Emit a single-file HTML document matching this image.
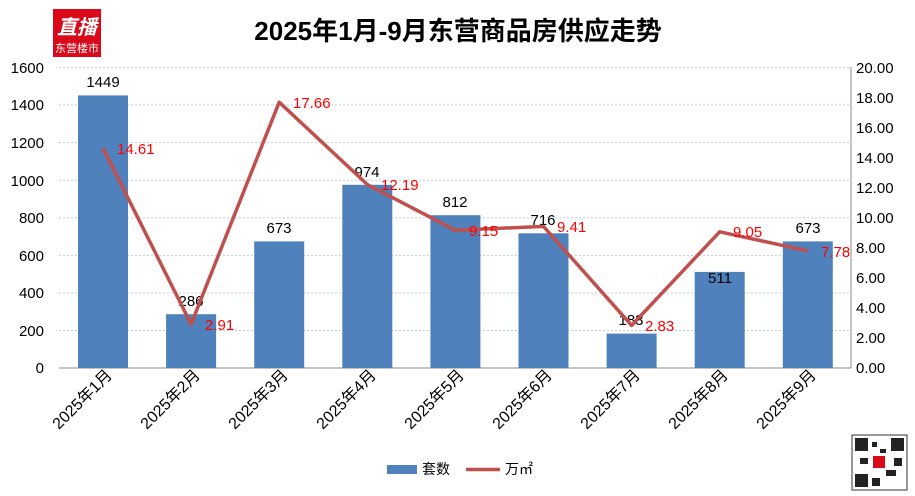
<!DOCTYPE html>
<html><head><meta charset="utf-8"><style>body{margin:0;background:#fff}svg{display:block}text{font-family:"Liberation Sans","Noto Sans CJK SC",sans-serif}</style></head><body>
<svg width="915" height="496" viewBox="0 0 915 496" xmlns="http://www.w3.org/2000/svg">
<rect width="915" height="496" fill="#fff"/>
<rect x="53" y="9" width="48" height="48" fill="#d9091a"/>
<text x="77" y="34" font-size="20" font-weight="bold" fill="#fff" text-anchor="middle" font-style="italic">直播</text>
<text x="77" y="52" font-size="11" fill="#fff" text-anchor="middle">东营楼市</text>
<text x="458" y="40" font-size="26" font-weight="bold" text-anchor="middle" fill="#000">2025年1月-9月东营商品房供应走势</text>
<g stroke="#b8cbe8" stroke-width="1" stroke-dasharray="2,2">
<line x1="59" x2="851" y1="67.5" y2="67.5"/><line x1="59" x2="851" y1="105" y2="105"/><line x1="59" x2="851" y1="142.6" y2="142.6"/><line x1="59" x2="851" y1="180.3" y2="180.3"/><line x1="59" x2="851" y1="217.9" y2="217.9"/><line x1="59" x2="851" y1="255.4" y2="255.4"/><line x1="59" x2="851" y1="293" y2="293"/><line x1="59" x2="851" y1="330.5" y2="330.5"/>
</g>
<line x1="59" x2="851" y1="368" y2="368" stroke="#888"/>
<line x1="851" x2="851" y1="67" y2="368" stroke="#888"/>
<g font-size="15" fill="#000" text-anchor="end">
<text x="44" y="73">1600</text><text x="44" y="110">1400</text><text x="44" y="148">1200</text><text x="44" y="186">1000</text><text x="44" y="223">800</text><text x="44" y="261">600</text><text x="44" y="298">400</text><text x="44" y="336">200</text><text x="44" y="373">0</text>
</g>
<g font-size="15" fill="#000">
<text x="856" y="73">20.00</text><text x="856" y="103">18.00</text><text x="856" y="133">16.00</text><text x="856" y="163">14.00</text><text x="856" y="193">12.00</text><text x="856" y="223">10.00</text><text x="856" y="253">8.00</text><text x="856" y="283">6.00</text><text x="856" y="313">4.00</text><text x="856" y="343">2.00</text><text x="856" y="373">0.00</text>
</g>
<g fill="#4f81bd">
<rect x="78" y="95.4" width="50" height="272.6"/>
<rect x="166.1" y="314.2" width="50" height="53.8"/>
<rect x="254.2" y="241.4" width="50" height="126.6"/>
<rect x="342.3" y="184.8" width="50" height="183.2"/>
<rect x="430.4" y="215.2" width="50" height="152.8"/>
<rect x="518.5" y="233.3" width="50" height="134.7"/>
<rect x="606.6" y="333.6" width="50" height="34.4"/>
<rect x="694.7" y="271.9" width="50" height="96.1"/>
<rect x="782.8" y="241.4" width="50" height="126.6"/>
</g>
<g font-size="15" fill="#000" text-anchor="middle">
<text x="103" y="87">1449</text><text x="191" y="306">286</text><text x="279" y="233">673</text><text x="367" y="177">974</text><text x="455" y="207">812</text><text x="543" y="225">716</text><text x="631" y="325">183</text><text x="720" y="283">511</text><text x="808" y="233">673</text>
</g>
<polyline fill="none" stroke="#c0504d" stroke-width="3.5" stroke-linejoin="round" points="103,148.1 191.1,324.2 279.2,102.2 367.3,184.5 455.4,230.3 543.5,226.4 631.6,325.4 719.7,231.8 807.8,250.9"/>
<g font-size="15" fill="#ff0000">
<text x="117" y="154">14.61</text><text x="205" y="330">2.91</text><text x="293" y="108">17.66</text><text x="381" y="190">12.19</text><text x="469" y="236">9.15</text><text x="557" y="232">9.41</text><text x="645" y="331">2.83</text><text x="733" y="237">9.05</text><text x="821" y="257">7.78</text>
</g>
<g font-size="16" fill="#000" text-anchor="end">
<text transform="translate(113,376) rotate(-45)">2025年1月</text>
<text transform="translate(201,376) rotate(-45)">2025年2月</text>
<text transform="translate(289,376) rotate(-45)">2025年3月</text>
<text transform="translate(377,376) rotate(-45)">2025年4月</text>
<text transform="translate(465,376) rotate(-45)">2025年5月</text>
<text transform="translate(553,376) rotate(-45)">2025年6月</text>
<text transform="translate(641,376) rotate(-45)">2025年7月</text>
<text transform="translate(729,376) rotate(-45)">2025年8月</text>
<text transform="translate(817,376) rotate(-45)">2025年9月</text>
</g>
<rect x="387" y="465" width="30" height="9" fill="#4f81bd"/>
<text x="422" y="474" font-size="14">套数</text>
<line x1="466" x2="500" y1="469.5" y2="469.5" stroke="#c0504d" stroke-width="3.5"/>
<text x="505" y="474" font-size="14">万㎡</text>
<rect x="852" y="435" width="55" height="55" fill="#fff" stroke="#333"/>
<g fill="#222"><rect x="855" y="438" width="13" height="13"/><rect x="891" y="438" width="13" height="13"/><rect x="855" y="474" width="13" height="13"/><rect x="872" y="442" width="5" height="5"/><rect x="880" y="449" width="6" height="4"/><rect x="860" y="458" width="8" height="6"/><rect x="886" y="470" width="10" height="6"/><rect x="872" y="478" width="8" height="8"/><rect x="894" y="458" width="8" height="8"/></g>
<rect x="873" y="456" width="12" height="12" fill="#d9091a"/>
</svg>
</body></html>
